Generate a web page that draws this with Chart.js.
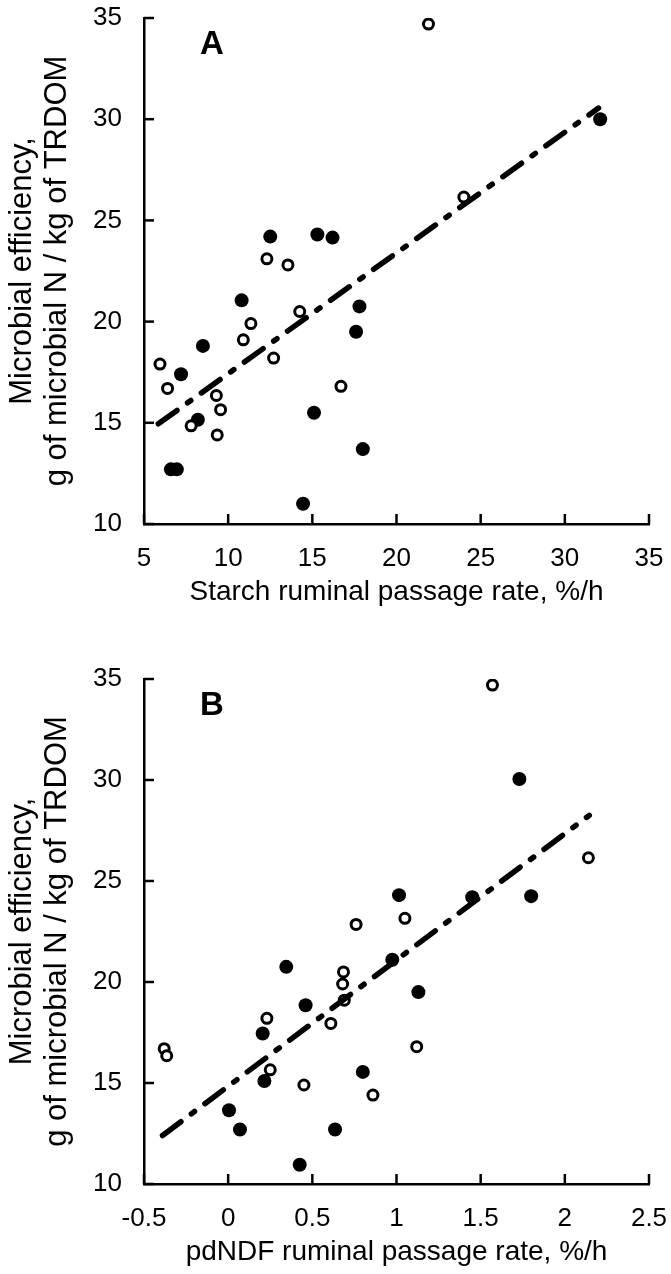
<!DOCTYPE html>
<html>
<head>
<meta charset="utf-8">
<script src="https://cdn.jsdelivr.net/npm/chart.js@4.4.1/dist/chart.umd.min.js"></script>
<style>
  html, body { margin: 0; padding: 0; background: #fff; }
  .panel { width: 671px; height: 637px; }
</style>
</head>
<body>
<div class="panel"><canvas id="chartA" width="671" height="637"></canvas></div>
<div class="panel"><canvas id="chartB" width="671" height="637"></canvas></div>
<script>
// Panel A: starch ruminal passage rate (%/h) vs microbial efficiency
const starchFilledX = [12.5, 15.3, 16.2, 32.1, 10.8, 17.8, 17.6, 8.5, 7.2, 15.1, 8.2, 18.0, 6.6, 6.95, 14.45];
const starchFilledY = [24.2, 24.3, 24.15, 30.0, 21.05, 20.75, 19.5, 18.8, 17.4, 15.5, 15.15, 13.7, 12.7, 12.7, 11.0];
const starchOpenX = [12.3, 13.55, 21.9, 24.0, 14.25, 11.35, 10.9, 5.95, 12.7, 6.4, 16.7, 9.3, 9.55, 7.8, 9.35];
const starchOpenY = [23.1, 22.8, 34.7, 26.15, 20.5, 19.9, 19.1, 17.9, 18.2, 16.7, 16.8, 16.35, 15.65, 14.85, 14.4];
const starchFitX = [5.85, 32.0];
const starchFitY = [14.95, 30.55];

// Panel B: pdNDF ruminal passage rate (%/h) vs microbial efficiency
const ndfFilledX = [1.73, 1.015, 1.45, 1.8, 0.345, 0.975, 0.46, 0.205, 1.13, 0.8, 0.215, 0.005, 0.07, 0.635, 0.425];
const ndfFilledY = [30.05, 24.3, 24.2, 24.25, 20.75, 21.1, 18.85, 17.45, 19.5, 15.55, 15.1, 13.65, 12.7, 12.7, 10.95];
const ndfOpenX = [0.76, 1.57, 2.14, 1.05, 0.685, 0.68, 0.69, 0.23, 0.61, -0.38, -0.365, 0.25, 0.45, 0.86, 1.12];
const ndfOpenY = [22.85, 34.7, 26.15, 23.15, 20.5, 19.9, 19.1, 18.2, 17.95, 16.7, 16.35, 15.65, 14.9, 14.4, 16.8];
const ndfFitX = [-0.39, 2.145];
const ndfFitY = [12.4, 28.25];

const yTickLabels = ['10', '15', '20', '25', '30', '35'];
const xTickLabelsA = ['5', '10', '15', '20', '25', '30', '35'];
const xTickLabelsB = ['-0.5', '0', '0.5', '1', '1.5', '2', '2.5'];

const yTitle = ['Microbial efficiency,', 'g of microbial N / kg of TRDOM'];
const FONT = "'Liberation Sans', Arial, sans-serif";

function pairs(xs, ys) {
  return xs.map((x, i) => ({ x: x, y: ys[i] }));
}

// ticks pointing into the plot area
const inwardTicks = {
  id: 'inwardTicks',
  afterDatasetsDraw(chart) {
    const { ctx, chartArea, scales } = chart;
    ctx.save();
    ctx.strokeStyle = '#000';
    ctx.lineWidth = 2.5;
    scales.x.ticks.forEach((t) => {
      const px = scales.x.getPixelForValue(t.value);
      ctx.beginPath();
      ctx.moveTo(px, chartArea.bottom);
      ctx.lineTo(px, chartArea.bottom - 10);
      ctx.stroke();
    });
    scales.y.ticks.forEach((t) => {
      const py = scales.y.getPixelForValue(t.value);
      ctx.beginPath();
      ctx.moveTo(chartArea.left, py);
      ctx.lineTo(chartArea.left + 10, py);
      ctx.stroke();
    });
    ctx.restore();
  }
};

const panelLetter = {
  id: 'panelLetter',
  afterDraw(chart, args, opts) {
    const { ctx, chartArea } = chart;
    ctx.save();
    ctx.fillStyle = '#000';
    ctx.font = 'bold 33px ' + FONT;
    ctx.textAlign = 'center';
    ctx.textBaseline = 'middle';
    ctx.fillText(opts.text, chartArea.left + 68, chartArea.top + 27);
    ctx.restore();
  }
};

function makeChart(id, cfg) {
  const ctx = document.getElementById(id);
  return new Chart(ctx, {
    type: 'scatter',
    data: {
      datasets: [
        {
          label: 'fit',
          data: pairs(cfg.fitX, cfg.fitY),
          showLine: true,
          borderColor: '#000',
          borderWidth: 5.5,
          borderCapStyle: 'round',
          borderDash: [23, 13, 4, 13],
          pointRadius: 0,
          order: 0
        },
        {
          label: 'open',
          data: pairs(cfg.openX, cfg.openY),
          pointStyle: 'circle',
          pointRadius: 5,
          pointBorderWidth: 3,
          pointBackgroundColor: '#fff',
          pointBorderColor: '#000',
          order: 1
        },
        {
          label: 'filled',
          data: pairs(cfg.filledX, cfg.filledY),
          pointStyle: 'circle',
          pointRadius: 7,
          pointBorderWidth: 0,
          pointBackgroundColor: '#000',
          pointBorderColor: '#000',
          order: 2
        }
      ]
    },
    options: {
      responsive: false,
      animation: false,
      devicePixelRatio: 1,
      layout: { padding: { top: cfg.padTop, right: 22, bottom: 0, left: 0 } },
      plugins: {
        legend: { display: false },
        tooltip: { enabled: false },
        panelLetter: { text: cfg.letter }
      },
      scales: {
        x: {
          type: 'linear',
          min: cfg.xMin,
          max: cfg.xMax,
          afterFit: (scale) => {
            scale.height = cfg.xAxisHeight;
            scale.paddingLeft = 0;
            scale.paddingRight = 0;
          },
          grid: { display: false },
          border: { display: true, color: '#000', width: 2.5 },
          ticks: {
            stepSize: cfg.xStep,
            color: '#000',
            padding: 11,
            maxRotation: 0,
            font: { family: FONT, size: 26 },
            callback: (v, i) => cfg.xLabels[i]
          },
          title: {
            display: true,
            text: cfg.xTitle,
            color: '#000',
            font: { family: FONT, size: 28, lineHeight: 1.2 },
            padding: { top: 0, bottom: cfg.xTitlePad }
          }
        },
        y: {
          type: 'linear',
          min: 10,
          max: 35,
          afterFit: (scale) => {
            scale.width = 144;
            scale.paddingTop = 0;
            scale.paddingBottom = 0;
          },
          grid: { display: false },
          border: { display: true, color: '#000', width: 2.5 },
          ticks: {
            stepSize: 5,
            color: '#000',
            padding: 14,
            font: { family: FONT, size: 26 },
            callback: (v, i) => yTickLabels[i]
          },
          title: {
            display: true,
            text: yTitle,
            color: '#000',
            font: { family: FONT, size: 31, lineHeight: 1.12 },
            padding: { top: 5, bottom: 0 }
          }
        }
      }
    },
    plugins: [inwardTicks, panelLetter]
  });
}

makeChart('chartA', {
  letter: 'A',
  filledX: starchFilledX, filledY: starchFilledY,
  openX: starchOpenX, openY: starchOpenY,
  fitX: starchFitX, fitY: starchFitY,
  xMin: 5, xMax: 35, xStep: 5, xLabels: xTickLabelsA,
  xTitle: 'Starch ruminal passage rate, %/h',
  padTop: 18, xAxisHeight: 113, xTitlePad: 28
});

makeChart('chartB', {
  letter: 'B',
  filledX: ndfFilledX, filledY: ndfFilledY,
  openX: ndfOpenX, openY: ndfOpenY,
  fitX: ndfFitX, fitY: ndfFitY,
  xMin: -0.5, xMax: 2.5, xStep: 0.5, xLabels: xTickLabelsB,
  xTitle: 'pdNDF ruminal passage rate, %/h',
  padTop: 42, xAxisHeight: 90, xTitlePad: 5
});
</script>
</body>
</html>
